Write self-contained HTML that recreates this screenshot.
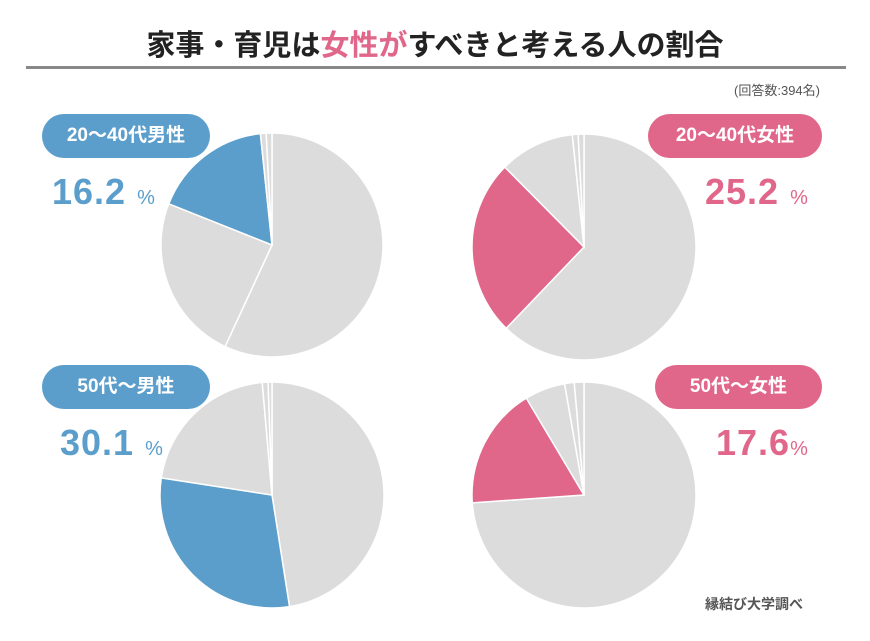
<!DOCTYPE html>
<html><head><meta charset="utf-8"><style>
body{margin:0;background:#fff;width:870px;height:641px;overflow:hidden;position:relative;font-family:"Liberation Sans","Noto Sans CJK JP",sans-serif}
.t{position:absolute;white-space:nowrap}
.pill{position:absolute;height:44px;border-radius:22px;color:#fff;font-size:19px;font-weight:bold;line-height:44px;text-align:center}
.b{background:#5b9ecb}.p{background:#e0668a}
.num{position:absolute;font-size:36px;font-weight:bold;line-height:1;letter-spacing:1px}
.num small{font-size:20px;font-weight:normal}
</style></head><body>
<div class="t" style="left:0;width:870px;text-align:center;top:22px;font-size:29px;font-weight:bold;color:#222">家事・育児は<span style="color:#e0668a">女性が</span>すべきと考える人の割合</div>
<div style="position:absolute;left:26px;top:66px;width:820px;height:3px;background:#888"></div>
<div class="t" style="right:50px;top:80px;font-size:13px;color:#555">(回答数:394名)</div>
<svg width="870" height="641" style="position:absolute;left:0;top:0">
<g stroke="#fff" stroke-width="1.5" id="pies"></g>
</svg>
<div class="pill b" style="left:42px;top:114px;width:168px">20〜40代男性</div>
<div class="num" style="left:52px;top:174px;color:#5b9ecb">16.2 <small>%</small></div>
<div class="pill p" style="left:648px;top:114px;width:174px">20〜40代女性</div>
<div class="num" style="left:705px;top:174px;color:#e0668a">25.2 <small>%</small></div>
<div class="pill b" style="left:42px;top:365px;width:168px">50代〜男性</div>
<div class="num" style="left:60px;top:425px;color:#5b9ecb">30.1 <small>%</small></div>
<div class="pill p" style="left:655px;top:365px;width:167px">50代〜女性</div>
<div class="num" style="left:716px;top:425px;color:#e0668a">17.6<small>%</small></div>
<div class="t" style="left:705px;top:594px;font-size:14px;font-weight:bold;color:#555">縁結び大学調べ</div>
<script>
var G="#dcdcdc",B="#5b9ecb",P="#e0668a";
var pies=[[272,245,111,112,[[0,205,G],[205,291.6,G],[291.6,354,B],[354,357,G],[357,360,G]]],
[584,247,112,113,[[0,224,G],[224,315,P],[315,354,G],[354,357,G],[357,360,G]]],
[272,495,112,113,[[0,171,G],[171,278.7,B],[278.7,355,G],[355,358,G],[358,360,G]]],
[584,495,112,113,[[0,266,G],[266,329,P],[329,350,G],[350,355,G],[355,360,G]]]];
var g=document.getElementById("pies"),s="";
function pt(cx,cy,rx,ry,a){a=a*Math.PI/180;return (cx+rx*Math.sin(a)).toFixed(2)+","+(cy-ry*Math.cos(a)).toFixed(2);}
pies.forEach(function(p){p[4].forEach(function(w){var l=(w[1]-w[0])>180?1:0;
s+='<path fill="'+w[2]+'" d="M'+p[0]+','+p[1]+' L'+pt(p[0],p[1],p[2],p[3],w[0])+' A'+p[2]+','+p[3]+' 0 '+l+' 1 '+pt(p[0],p[1],p[2],p[3],w[1])+' Z"/>';});});
g.innerHTML=s;
</script>
</body></html>
